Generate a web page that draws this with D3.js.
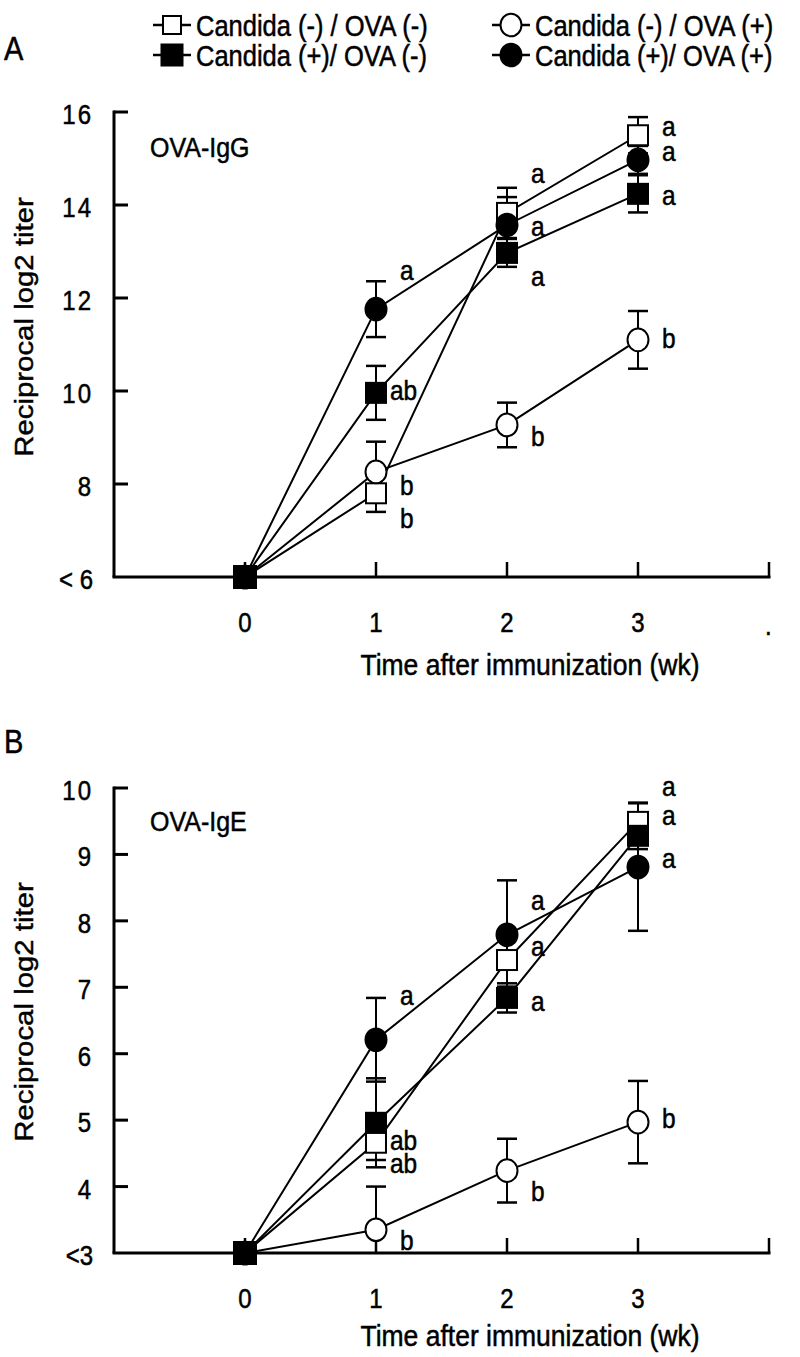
<!DOCTYPE html>
<html><head><meta charset="utf-8">
<script src="https://cdn.jsdelivr.net/npm/d3@7"></script>
<style>
html,body{margin:0;padding:0;background:#fff;}
svg{display:block;font-family:"Liberation Sans",Arial,Helvetica,sans-serif;}
</style></head>
<body>
<svg id="chart" width="800" height="1357"></svg>
<script>
// ---------------- DATA ----------------
const weeks = [0, 1, 2, 3];
const seriesNames = ["Candida (-) / OVA (-)", "Candida (-) / OVA (+)", "Candida (+)/ OVA (-)", "Candida (+)/ OVA (+)"];
const seriesShapes = ["square", "circle", "square", "circle"];
const seriesFilled = [false, false, true, true];

// Panel A: OVA-IgG
const iggOpenSquare   = [6, 7.80, 13.83, 15.50];
const iggOpenCircle   = [6, 8.26, 9.27, 11.10];
const iggFilledSquare = [6, 9.96, 12.97, 14.24];
const iggFilledCircle = [6, 11.76, 13.57, 14.97];
const iggErrOpenSquare   = [0, 0.40, 0.54, 0.39];
const iggErrOpenCircle   = [0, 0.65, 0.48, 0.62];
const iggErrFilledSquare = [0, 0.58, 0.30, 0.40];
const iggErrFilledCircle = [0, 0.60, 0.60, 0.30];
const iggTickValues = [6, 8, 10, 12, 14, 16];
const iggTickLabels = ["< 6", "8", "10", "12", "14", "16"];
const iggLetters = [
  {w:1, v:12.56, t:"a"}, {w:1, v:9.98, t:"ab"}, {w:1, v:7.94, t:"b"}, {w:1, v:7.23, t:"b"},
  {w:2, v:14.65, t:"a"}, {w:2, v:13.50, t:"a"}, {w:2, v:12.43, t:"a"}, {w:2, v:8.99, t:"b"},
  {w:3, v:15.66, t:"a"}, {w:3, v:15.12, t:"a"}, {w:3, v:14.17, t:"a"}, {w:3, v:11.10, t:"b"}
];

// Panel B: OVA-IgE
const igeOpenSquare   = [3, 4.66, 7.41, 9.49];
const igeOpenCircle   = [3, 3.35, 4.24, 4.97];
const igeFilledSquare = [3, 4.96, 6.84, 9.28];
const igeFilledCircle = [3, 6.21, 7.79, 8.81];
const igeErrOpenSquare   = [0, 0.26, 0.40, 0.29];
const igeErrOpenCircle   = [0, 0.65, 0.48, 0.62];
const igeErrFilledSquare = [0, 0.67, 0.22, 0.20];
const igeErrFilledCircle = [0, 0.63, 0.82, 0.96];
const igeTickValues = [3, 4, 5, 6, 7, 8, 9, 10];
const igeTickLabels = ["<3", "4", "5", "6", "7", "8", "9", "10"];
const igeLetters = [
  {w:1, v:6.86, t:"a"}, {w:1, v:4.67, t:"ab"}, {w:1, v:4.33, t:"ab"}, {w:1, v:3.17, t:"b"},
  {w:2, v:8.29, t:"a"}, {w:2, v:7.59, t:"a"}, {w:2, v:6.77, t:"a"}, {w:2, v:3.90, t:"b"},
  {w:3, v:10.0, t:"a"}, {w:3, v:9.57, t:"a"}, {w:3, v:8.92, t:"a"}, {w:3, v:5.00, t:"b"}
];
const xTickValues = [0, 1, 2, 3];
const xTitle = "Time after immunization (wk)";
const yTitle = "Reciprocal log2 titer";

// ---------------- DRAW ----------------
const svg = d3.select("#chart");
const SY = 1.13; // vertical stretch of glyphs in the original
function txt(g, x, y, s, size, anchor) {
  return g.append("text")
    .attr("transform", `translate(${x},${y}) scale(1,${SY})`)
    .attr("font-size", size)
    .attr("text-anchor", anchor || "start")
    .attr("fill", "#000").attr("stroke", "#000").attr("stroke-width", 0.45)
    .text(s);
}

const x = d3.scaleLinear().domain([-1, 4]).range([114, 769]);

function marker(g, shape, filled, cx, cy, sq, r) {
  if (shape === "square") {
    g.append("rect").attr("x", cx - sq/2).attr("y", cy - sq/2).attr("width", sq).attr("height", sq)
      .attr("fill", filled ? "#000" : "#fff").attr("stroke", "#000").attr("stroke-width", 2);
  } else {
    g.append("ellipse").attr("cx", cx).attr("cy", cy).attr("rx", r).attr("ry", r * 1.08)
      .attr("fill", filled ? "#000" : "#fff").attr("stroke", "#000").attr("stroke-width", 2);
  }
}

function panel(cfg) {
  const g = svg.append("g");
  const y = d3.scaleLinear().domain(cfg.domain).range(cfg.range);
  const series = cfg.series;
  const y0 = y(cfg.domain[0]);
  // axes
  g.append("line").attr("x1", x(-1)).attr("x2", x(-1)).attr("y1", y(cfg.domain[1]) - 1.5).attr("y2", y0)
    .attr("stroke", "#000").attr("stroke-width", 3);
  g.append("line").attr("x1", x(-1) - 1.5).attr("x2", x(4) + 1.5).attr("y1", y0).attr("y2", y0)
    .attr("stroke", "#000").attr("stroke-width", 3);
  // y ticks
  cfg.ticks.forEach((v, i) => {
    if (i > 0) g.append("line").attr("x1", x(-1)).attr("x2", x(-1) + 14).attr("y1", y(v)).attr("y2", y(v))
      .attr("stroke", "#000").attr("stroke-width", 3);
    txt(g, 93, y(v) + 12, cfg.tickLabels[i], 24, "end").attr("letter-spacing", i === 0 ? 0 : 2);
  });
  // x ticks
  [0, 1, 2, 3, 4].forEach(w => {
    g.append("line").attr("x1", x(w)).attr("x2", x(w)).attr("y1", y0).attr("y2", y0 - 15)
      .attr("stroke", "#000").attr("stroke-width", 2.5);
  });
  xTickValues.forEach(w => txt(g, x(w), y0 + 55, String(w), 24, "middle"));
  txt(g, 530, y0 + cfg.titleOffset, xTitle, 26.5, "middle");
  // y title
  g.append("text")
    .attr("transform", `translate(33,${cfg.yTitleY}) scale(1,${SY}) rotate(-90)`)
    .attr("font-size", 26).attr("text-anchor", "middle")
    .attr("stroke", "#000").attr("stroke-width", 0.45).text(yTitle);
  // panel letter and label
  txt(g, 4, cfg.panelY, cfg.panelLetter, 29);
  txt(g, 150, cfg.labelY, cfg.label, 25);

  // error bars (clipped at the "<" floor of the axis)
  series.forEach(s => {
    s.vals.forEach((v, i) => {
      if (!s.err[i]) return;
      const cx = x(weeks[i]);
      const lo = v - s.err[i];
      const y1 = y(v + s.err[i]), y2 = y(Math.max(lo, cfg.domain[0]));
      g.append("line").attr("x1", cx).attr("x2", cx).attr("y1", y1).attr("y2", y2).attr("stroke", "#000").attr("stroke-width", 2);
      const caps = lo >= cfg.domain[0] ? [y1, y2] : [y1];
      caps.forEach(yy => g.append("line").attr("x1", cx - 10).attr("x2", cx + 10).attr("y1", yy).attr("y2", yy)
        .attr("stroke", "#000").attr("stroke-width", 2.5));
    });
  });
  // lines
  const line = d3.line().x((d, i) => x(weeks[i])).y(d => y(d));
  series.forEach(s => {
    g.append("path").attr("d", line(s.vals)).attr("fill", "none").attr("stroke", "#000").attr("stroke-width", 2);
  });
  // markers (draw order)
  [0, 1, 3, 2].forEach(k => {
    const s = series[k];
    s.vals.forEach((v, i) => marker(g, seriesShapes[k], seriesFilled[k], x(weeks[i]), y(v), i === 0 && k === 2 ? 22 : 20, 10.5));
  });
  // letters
  cfg.letters.forEach(l => {
    const off = l.t === "ab" ? 14 : 24;
    txt(g, x(l.w) + off, y(l.v) + 8, l.t, 24.5);
  });
}

panel({
  domain: [6, 16], range: [577, 112],
  series: [
    {vals: iggOpenSquare, err: iggErrOpenSquare},
    {vals: iggOpenCircle, err: iggErrOpenCircle},
    {vals: iggFilledSquare, err: iggErrFilledSquare},
    {vals: iggFilledCircle, err: iggErrFilledCircle}
  ],
  ticks: iggTickValues, tickLabels: iggTickLabels, letters: iggLetters,
  panelLetter: "A", panelY: 60, label: "OVA-IgG", labelY: 157,
  yTitleY: 327, titleOffset: 98
});
txt(svg, 765, 635, ".", 24);

panel({
  domain: [3, 10], range: [1253, 788],
  series: [
    {vals: igeOpenSquare, err: igeErrOpenSquare},
    {vals: igeOpenCircle, err: igeErrOpenCircle},
    {vals: igeFilledSquare, err: igeErrFilledSquare},
    {vals: igeFilledCircle, err: igeErrFilledCircle}
  ],
  ticks: igeTickValues, tickLabels: igeTickLabels, letters: igeLetters,
  panelLetter: "B", panelY: 753, label: "OVA-IgE", labelY: 831,
  yTitleY: 1012, titleOffset: 93
});

// legend
const lg = svg.append("g");
const legendCols = [[0, 2], [1, 3]];
const colX = [196, 535];
legendCols.forEach((col, ci) => {
  col.forEach((k, ri) => {
    const ty = ri === 0 ? 36 : 66;
    const cy = ty - 11;
    const mx = colX[ci] - 24;
    lg.append("line").attr("x1", mx - 19).attr("x2", mx + 19).attr("y1", cy).attr("y2", cy).attr("stroke", "#000").attr("stroke-width", 2.5);
    marker(lg, seriesShapes[k], seriesFilled[k], mx, cy, seriesFilled[k] ? 21 : 18, 10.5);
    txt(lg, colX[ci], ty, seriesNames[k], 25.5);
  });
});
</script>
</body></html>
